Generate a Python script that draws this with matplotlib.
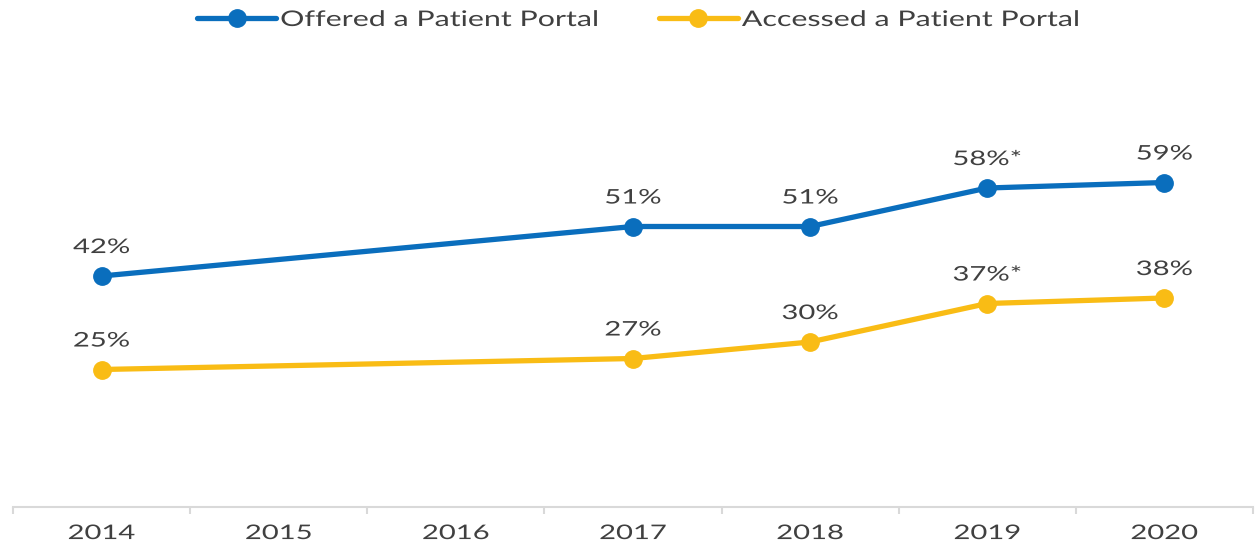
import matplotlib
matplotlib.use("Agg")
import matplotlib.pyplot as plt
from matplotlib.patheffects import AbstractPathEffect
from matplotlib.transforms import Affine2D

years = ["2014", "2015", "2016", "2017", "2018", "2019", "2020"]
data_years = ["2014", "2017", "2018", "2019", "2020"]
offered = [42, 51, 51, 58, 59]
accessed = [25, 27, 30, 37, 38]
offered_labels = ["42%", "51%", "51%", "58%*", "59%"]
accessed_labels = ["25%", "27%", "30%", "37%*", "38%"]

blue = "#0A6EBD"
gold = "#F9BC15"
txt = "#404040"


class HStretch(AbstractPathEffect):
    """Widen glyphs horizontally (the reference text is horizontally stretched)."""
    def __init__(self, sx, anchor="center"):
        super().__init__()
        self.sx = sx
        self.anchor = anchor

    def draw_path(self, renderer, gc, tpath, affine, rgbFace=None):
        if self.anchor == "center":
            ext = tpath.get_extents()
            cx = (ext.x0 + ext.x1) / 2
        else:
            cx = 0
        t = Affine2D().translate(-cx, 0).scale(self.sx, 1).translate(cx, 0) + affine
        renderer.draw_path(gc, tpath, t, rgbFace)


plt.rcParams['font.family'] = ['Lato', 'DejaVu Sans']

fig = plt.figure(figsize=(12.55, 5.46), dpi=100)
ax = fig.add_axes([13/1255, 1 - 507/546, 1240/1255, 440/546])

xs = [years.index(y) for y in data_years]
l1, = ax.plot(xs, offered, color=blue, lw=3.8, marker='o', ms=12.5, label="Offered a Patient Portal",
              solid_capstyle='round')
l2, = ax.plot(xs, accessed, color=gold, lw=3.8, marker='o', ms=12.5, label="Accessed a Patient Portal",
              solid_capstyle='round')

fs = 14.5
sx = 1.45
for x, v, s in zip(xs, offered, offered_labels):
    ax.annotate(s, (x, v), xytext=(0, 20.5), textcoords='offset points', ha='center', va='center',
                fontsize=fs, color=txt, path_effects=[HStretch(sx)])
for x, v, s in zip(xs, accessed, accessed_labels):
    ax.annotate(s, (x, v), xytext=(0, 20.5), textcoords='offset points', ha='center', va='center',
                fontsize=fs, color=txt, path_effects=[HStretch(sx)])

ax.set_xlim(-0.5, len(years) - 0.5)
ax.set_ylim(0, 80)
for sp in ['top', 'right', 'left']:
    ax.spines[sp].set_visible(False)
ax.spines['bottom'].set_color('#D9D9D9')
ax.spines['bottom'].set_linewidth(1.5)
ax.set_yticks([])
ax.set_xticks(range(len(years)))
ax.set_xticklabels(years, fontsize=fs, color=txt)
for lab in ax.get_xticklabels():
    lab.set_path_effects([HStretch(sx)])
ax.tick_params(axis='x', which='major', length=0, pad=13)
ax.set_xticks([i - 0.5 for i in range(len(years) + 1)], minor=True)
ax.tick_params(axis='x', which='minor', length=5, width=1.5, color='#D9D9D9')

lfs = 15.5
leg = fig.legend(handles=[l1, l2], loc='center left', bbox_to_anchor=(197/1255, 1 - 20/546), ncol=2,
                 frameon=False, fontsize=lfs, handlelength=3.67, handletextpad=0.19,
                 columnspacing=7.08, labelcolor=txt, borderpad=0, borderaxespad=0)
for t in leg.get_texts():
    t.set_path_effects([HStretch(1.41, anchor="left")])

fig.savefig("out.png", dpi=100)
